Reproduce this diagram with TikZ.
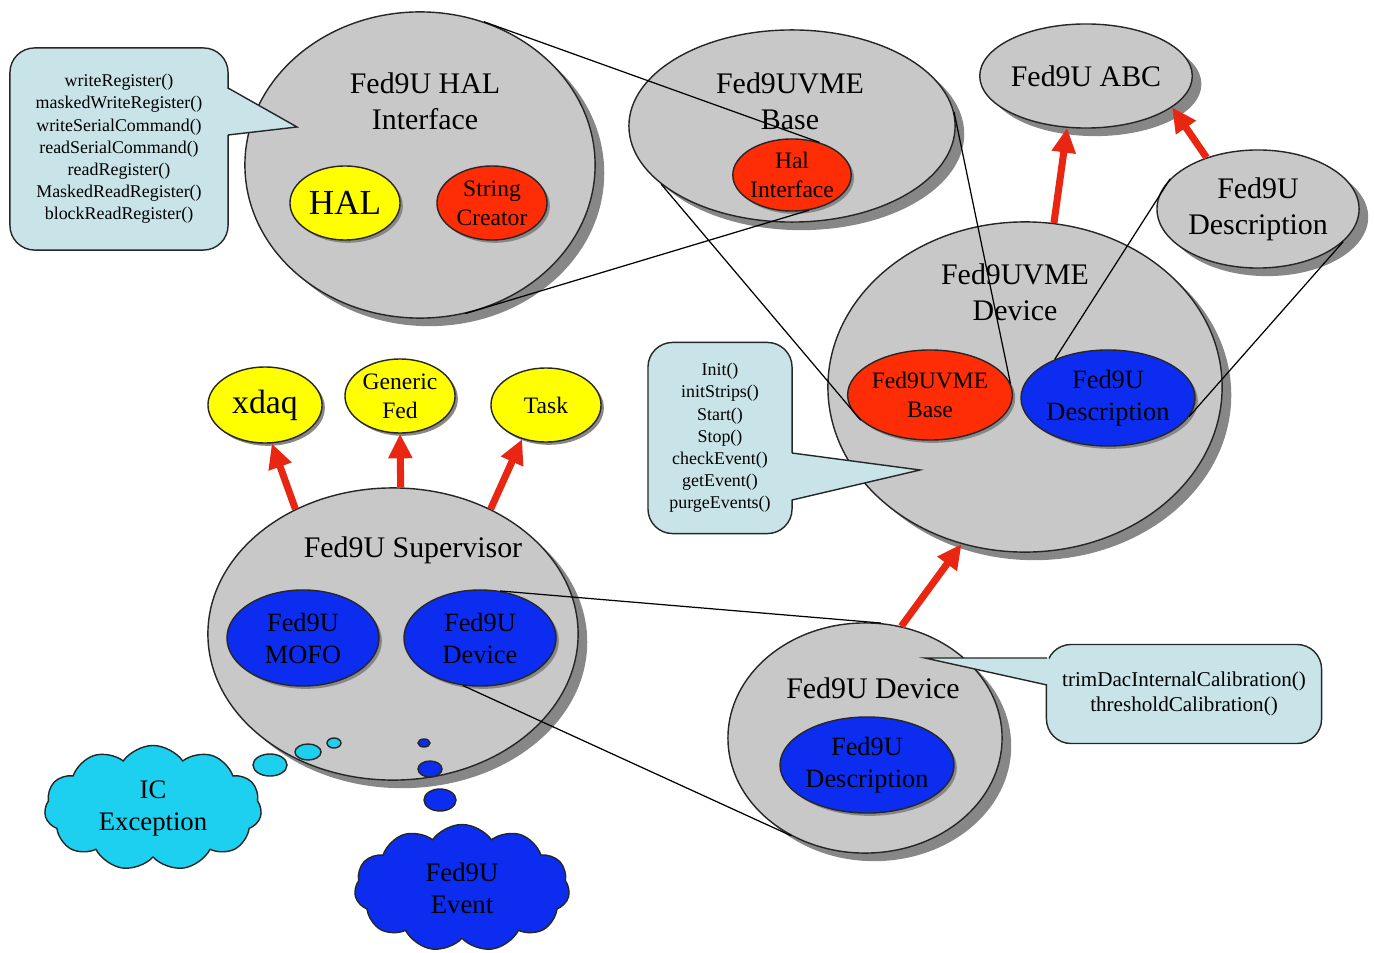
\documentclass[tikz,border=0pt]{standalone}
\usepackage{fontspec}
\setmainfont{Liberation Serif}
\usetikzlibrary{shapes.geometric,shapes.symbols,shadows,arrows.meta}

\definecolor{classgray}{RGB}{200,200,200}
\definecolor{shadegray}{RGB}{135,135,135}
\definecolor{partred}{RGB}{255,45,5}
\definecolor{partblue}{RGB}{12,45,240}
\definecolor{partyellow}{RGB}{255,255,0}
\definecolor{noteblue}{RGB}{200,228,232}
\definecolor{cloudcyan}{RGB}{30,208,240}
\definecolor{inheritred}{RGB}{232,38,18}

\tikzset{
  classbox/.style={ellipse, draw=black!85, fill=classgray, inner sep=0pt, align=center,
    font=\fontsize{8.5}{10.3}\selectfont,
    drop shadow={shadow xshift=2.6pt, shadow yshift=-2.3pt, fill=shadegray, opacity=1}},
  partbox/.style={ellipse, draw=black!85, inner sep=0pt, align=center,
    drop shadow={shadow xshift=0.8pt, shadow yshift=-0.8pt, fill=shadegray, opacity=1}},
  classtitle/.style={align=center, inner sep=0pt, font=\fontsize{8.5}{10.3}\selectfont},
  smalltext/.style={font=\fontsize{6.7}{8.3}\selectfont},
  midtext/.style={font=\fontsize{7.5}{9.1}\selectfont},
  notebox/.style={rectangle, rounded corners=7pt, draw=black!85, fill=noteblue, align=center, inner sep=0pt},
  notetail/.style={draw=black!85},
  inherit/.style={draw=inheritred, line width=2pt, -{Triangle[length=7pt,width=6.5pt]}},
  proj/.style={draw=black, line width=0.35pt},
  bubble/.style={ellipse, draw=black!85, inner sep=0pt},
  thought/.style={cloud, cloud puffs=11, cloud puff arc=110, cloud ignores aspect, draw=black!85,
    inner sep=0pt, align=center, font=\fontsize{7.6}{9.1}\selectfont},
}

\begin{document}
\begin{tikzpicture}[x=0.01cm, y=-0.01cm]
  \useasboundingbox (0,0) rectangle (1374,952);

  % Classes
  \node[classbox, minimum width=3.50cm, minimum height=3.06cm] (hal) at (420,165) {};
  \node[classbox, minimum width=3.26cm, minimum height=1.92cm] (vmebase) at (792,126) {};
  \node[classbox, minimum width=3.94cm, minimum height=3.30cm] (vmedev) at (1025,387) {};
  \node[classbox, minimum width=2.02cm, minimum height=1.04cm] (abc) at (1086,76) {Fed9U ABC};
  \node[classbox, minimum width=2.02cm, minimum height=1.18cm] (desc) at (1258,209) {Fed9U\\Description};
  \node[classbox, minimum width=3.70cm, minimum height=2.92cm] (sup) at (393,634) {};
  \node[classbox, minimum width=2.74cm, minimum height=2.30cm] (fdev) at (865,738) {};

  % Class names
  \node[classtitle] (haltitle) at (425,101) {Fed9U HAL\\Interface};
  \node[classtitle] (vmebasetitle) at (790,101) {Fed9UVME\\Base};
  \node[classtitle] (vmedevtitle) at (1015,292) {Fed9UVME\\Device};
  \node[classtitle] (suptitle) at (413,550) {Fed9U Supervisor};
  \node[classtitle] (fdevtitle) at (873,688) {Fed9U Device};

  % Members
  \node[partbox, fill=partyellow, minimum width=1.10cm, minimum height=0.74cm, font=\fontsize{10}{12}\selectfont] (halpart) at (345,203) {HAL};
  \node[partbox, fill=partred, smalltext, minimum width=1.10cm, minimum height=0.74cm] (strcr) at (492,203) {String\\Creator};
  \node[partbox, fill=partred, smalltext, minimum width=1.10cm, minimum height=0.72cm] (halint) at (792,175) {Hal\\Interface};
  \node[partbox, fill=partred, smalltext, minimum width=1.44cm, minimum height=0.90cm] (vbase) at (930,395) {Fed9UVME\\Base};
  \node[partbox, fill=partblue, midtext, minimum width=1.54cm, minimum height=0.96cm] (vdesc) at (1108,398) {Fed9U\\Description};
  \node[partbox, fill=partblue, midtext, minimum width=1.52cm, minimum height=0.96cm] (mofo) at (303,638) {Fed9U\\MOFO};
  \node[partbox, fill=partblue, midtext, minimum width=1.52cm, minimum height=0.96cm] (sdev) at (480,638) {Fed9U\\Device};
  \node[partbox, fill=partblue, midtext, minimum width=1.46cm, minimum height=0.96cm] (ddesc) at (867,765) {Fed9U\\Description};

  % Base classes of the supervisor
  \node[partbox, fill=partyellow, minimum width=1.14cm, minimum height=0.76cm, font=\fontsize{9.6}{11.5}\selectfont] (xdaq) at (265,405) {xdaq};
  \node[partbox, fill=partyellow, smalltext, minimum width=1.10cm, minimum height=0.74cm] (gen) at (400,396) {Generic\\Fed};
  \node[partbox, fill=partyellow, smalltext, minimum width=1.10cm, minimum height=0.74cm] (task) at (546,405) {Task};

  % Method notes
  \node[notebox, minimum width=2.18cm, minimum height=2.02cm, font=\fontsize{5.1}{6.3}\selectfont] (regnote) at (119,149)
    {writeRegister()\\maskedWriteRegister()\\writeSerialCommand()\\readSerialCommand()\\readRegister()\\MaskedReadRegister()\\blockReadRegister()};
  \coordinate (regtip) at (297,127);
  \fill[noteblue] (226,88) -- (regtip) -- (226,135) -- cycle;
  \draw[notetail] (228,88) -- (regtip) -- (228,135);

  \node[notebox, minimum width=1.44cm, minimum height=1.91cm, font=\fontsize{5.1}{6.3}\selectfont] (runnote) at (720,438)
    {Init()\\initStrips()\\Start()\\Stop()\\checkEvent()\\getEvent()\\purgeEvents()};
  \coordinate (runtip) at (920,470);
  \fill[noteblue] (790,453) -- (runtip) -- (790,500) -- cycle;
  \draw[notetail] (792,453) -- (runtip) -- (792,500);

  \node[notebox, minimum width=2.75cm, minimum height=0.99cm, font=\fontsize{6}{6.9}\selectfont] (calnote) at (1184,694)
    {trimDacInternalCalibration()\\thresholdCalibration()};
  \coordinate (caltip) at (925,658);
  \fill[noteblue] (1049,658) -- (caltip) -- (1049,685) -- cycle;
  \draw[notetail] (1047,658) -- (caltip) -- (1047,685);

  % Thrown objects
  \node[thought, fill=cloudcyan, minimum width=2.17cm, minimum height=1.25cm] (icexc) at (153,808) {IC\\Exception};
  \node[thought, fill=partblue, minimum width=2.15cm, minimum height=1.27cm] (evt) at (462,888) {Fed9U\\Event};
  \node[bubble, fill=cloudcyan, minimum width=0.34cm, minimum height=0.22cm] (icb1) at (270,765) {};
  \node[bubble, fill=cloudcyan, minimum width=0.26cm, minimum height=0.16cm] (icb2) at (308,752) {};
  \node[bubble, fill=cloudcyan, minimum width=0.14cm, minimum height=0.10cm] (icb3) at (334,743) {};
  \node[bubble, fill=partblue, minimum width=0.12cm, minimum height=0.08cm] (evb1) at (424,743) {};
  \node[bubble, fill=partblue, minimum width=0.24cm, minimum height=0.16cm] (evb2) at (430,769) {};
  \node[bubble, fill=partblue, minimum width=0.32cm, minimum height=0.22cm] (evb3) at (440,800) {};

  % Inheritance
  \draw[inherit] (sup.128) -- (xdaq.-80);
  \draw[inherit] (sup.87) -- (gen.south);
  \draw[inherit] (sup.52) -- (task.-125);
  \draw[inherit] (vmedev.80) -- (abc.-110);
  \draw[inherit] (desc.135) -- (abc.-20);
  \draw[inherit] (fdev.72) -- (vmedev.-112);

  % Members expanded
  \draw[proj] (hal.66) -- (halint.50);
  \draw[proj] (hal.-73) -- (halint.-64);
  \draw[proj] (vmebase.-156) -- (vbase.-160);
  \draw[proj] (vmebase.5) -- (vbase.8);
  \draw[proj] (desc.161) -- (vdesc.144);
  \draw[proj] (desc.-21) -- (vdesc.-13);
  \draw[proj] (sdev.67) -- (fdev.82);
  \draw[proj] (sdev.-110) -- (fdev.-127);

\end{tikzpicture}
\end{document}
